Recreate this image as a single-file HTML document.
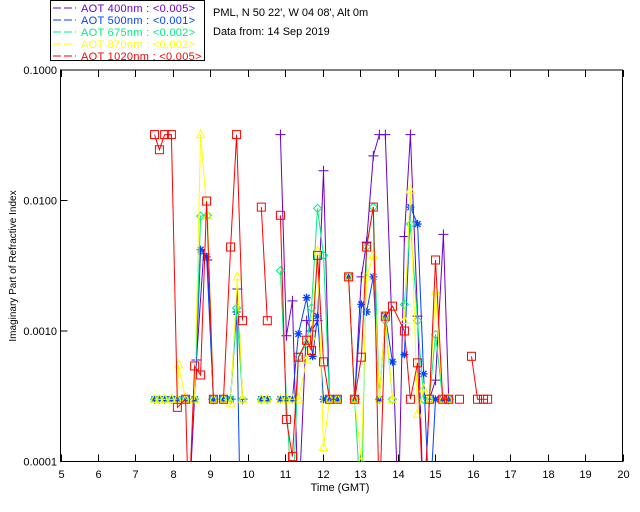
<!DOCTYPE html>
<html><head><meta charset="utf-8"><style>
body{margin:0;background:#fff;}
svg{display:block;font-family:"Liberation Sans",sans-serif;font-size:11px;}
</style></head><body>
<svg id="chart" width="640" height="512">
<defs><clipPath id="clip"><rect x="60.5" y="70" width="562" height="391.5"/></clipPath></defs>
<g>
<rect x="50.5" y="0.5" width="154" height="60" fill="#fff" stroke="#000"/>
</g>
<text x="213" y="16">PML, N 50 22', W 04 08', Alt 0m</text>
<text x="213" y="35">Data from: 14 Sep 2019</text>
<g id="axes"></g>
<g id="marks" clip-path="url(#clip)"></g>
<text x="340" y="491" text-anchor="middle">Time (GMT)</text>
<text transform="translate(16,266) rotate(-90)" text-anchor="middle" font-size="10">Imaginary Part of Refractive Index</text>
</svg>
<script>
const xTicks=[5,6,7,8,9,10,11,12,13,14,15,16,17,18,19,20];
const yTicks=[0.1,0.01,0.001,0.0001];
const yTickLabels=["0.1000","0.0100","0.0010","0.0001"];
const seriesNames=["AOT  400nm : <0.005>","AOT  500nm : <0.001>","AOT  675nm : <0.002>","AOT  870nm : <0.002>","AOT 1020nm : <0.005>"];
const seriesColors=["#6a00c8","#0040ff","#00ee80","#ffff00","#ff0000"];
const seriesMarkers=["plus","star","diamond","triangle","square"];
// null separates disconnected segments
const t400=[8.42,8.63,8.82,8.92,9.08,null,9.54,9.72,9.86,null,10.87,11.03,11.19,11.35,11.57,11.70,11.86,12.02,12.18,null,12.85,13.03,13.17,13.35,13.51,13.67,14.02,14.18,14.34,14.53,14.69,14.85,15.01,15.22,15.36];
const v400=[0.00004,0.0006,0.0039,0.0035,0.0003,null,0.0003,0.0021,0.0003,null,0.032,0.00092,0.0017,0.00004,0.0012,0.001,0.0012,0.0169,0.0003,null,0.0003,0.0026,0.0048,0.022,0.032,0.032,0.00004,0.0053,0.032,0.0013,0.00004,0.0003,0.00042,0.0055,0.0003];
const t500=[7.51,7.64,7.78,7.96,8.12,8.34,8.58,8.74,8.90,9.08,null,9.35,9.54,9.70,9.80,null,10.36,10.52,null,10.87,11.03,11.19,11.35,11.57,11.73,11.86,12.02,12.18,12.39,null,12.69,12.85,13.03,13.17,13.35,13.51,13.67,13.86,null,14.18,14.34,14.53,14.69,14.85,15.01,15.20,15.36];
const v500=[0.0003,0.0003,0.0003,0.0003,0.0003,0.0003,0.0003,0.0042,0.0037,0.0003,null,0.0003,0.0003,0.0014,0.00004,null,0.0003,0.0003,null,0.0003,0.0003,0.0003,0.00095,0.0018,0.00064,0.0013,0.0003,0.0003,0.0003,null,0.0026,0.0003,0.0016,0.0014,0.0026,0.0003,0.0013,0.00058,null,0.00066,0.0089,0.0066,0.00047,0.00004,0.0003,0.0003,0.0003];
const t675=[7.51,7.64,7.78,7.96,8.12,8.34,8.58,8.74,8.92,9.08,null,9.35,9.54,9.70,9.86,null,10.36,10.52,null,10.87,11.03,11.19,11.35,11.57,11.70,11.86,12.02,12.18,12.39,null,12.69,12.85,13.03,13.17,13.35,13.51,13.67,13.86,null,14.18,14.34,14.53,14.69,14.85,15.01,15.20,15.36];
const v675=[0.0003,0.0003,0.0003,0.0003,0.0003,0.0003,0.0003,0.0076,0.0077,0.0003,null,0.0003,0.0003,0.0015,0.0003,null,0.0003,0.0003,null,0.0029,0.0003,0.00004,0.00063,0.0008,0.0015,0.0087,0.0038,0.0003,0.0003,null,0.0026,0.0003,0.00004,0.0044,0.0089,0.0003,0.0012,0.0003,null,0.0016,0.0066,0.0012,0.0003,0.0003,0.00094,0.0003,0.0003];
const t870=[7.51,7.64,7.78,7.96,8.12,8.15,8.34,8.58,8.74,8.92,9.08,null,9.35,9.54,9.72,9.86,null,10.36,10.52,null,10.87,11.03,11.19,11.35,11.57,11.70,11.86,12.02,12.18,12.39,null,12.69,12.85,13.03,13.17,13.35,13.51,13.67,13.86,null,14.18,14.34,14.53,14.69,14.85,15.01,15.20,15.36];
const v870=[0.0003,0.0003,0.0003,0.0003,0.0003,0.00055,0.0003,0.0003,0.032,0.0076,0.0003,null,0.0003,0.00028,0.0026,0.0003,null,0.0003,0.0003,null,0.0003,0.0003,0.0003,0.0003,0.0006,0.0009,0.0041,0.000128,0.0003,0.0003,null,0.0026,0.0003,0.0001,0.0026,0.0038,0.0003,0.0013,0.0003,null,0.0012,0.012,0.00023,0.00036,0.0003,0.002,0.0003,0.0003];
const t1020=[7.51,7.64,7.78,7.96,8.12,8.34,8.42,8.58,8.74,8.90,9.08,null,9.35,9.54,9.70,9.86,null,10.36,10.52,null,10.87,11.03,11.19,11.35,11.57,11.70,11.86,12.02,12.18,12.39,null,12.69,12.85,13.03,13.17,13.35,13.51,13.67,13.86,14.18,14.34,14.53,14.69,14.85,15.01,15.20,15.36,null,15.65,null,15.97,16.13,16.29,16.40];
const v1020=[0.032,0.0245,0.032,0.032,0.00026,0.0003,0.00004,0.00054,0.00046,0.0099,0.0003,null,0.0003,0.0044,0.032,0.0012,null,0.0089,0.0012,null,0.0077,0.00021,0.000109,0.00063,0.00085,0.00071,0.0038,0.00058,0.0003,0.0003,null,0.0026,0.0003,0.00063,0.0044,0.0089,0.00004,0.0013,0.00155,0.001,0.0003,0.00057,0.00004,0.0003,0.0035,0.0003,0.0003,null,0.0003,null,0.00064,0.0003,0.0003,0.0003];
const seriesT=[t400,t500,t675,t870,t1020];
const seriesV=[v400,v500,v675,v870,v1020];

const NS="http://www.w3.org/2000/svg";
const X0=60.5,X1=622.5,Y0=461.5,Y1=70;
function xs(t){return X0+(t-5)/15*(X1-X0);}
function ys(v){return Y0-(Math.log10(v)+4)/3*(Y0-Y1);}
function mk(tag,attrs,parent){const e=document.createElementNS(NS,tag);for(const k in attrs)e.setAttribute(k,attrs[k]);parent.appendChild(e);return e;}
const axes=document.getElementById('axes'),marks=document.getElementById('marks');
const frame=mk('rect',{x:X0,y:Y1,width:X1-X0,height:Y0-Y1,fill:'none',stroke:'#000'},axes);


xTicks.forEach(t=>{
  const x=Math.round(xs(t))+0.5;
  const a=mk('line',{x1:x,x2:x,y1:Y0,y2:Y0-7,stroke:'#000'},axes);
  
  
  const b=mk('line',{x1:x,x2:x,y1:Y1,y2:Y1+7,stroke:'#000'},axes);
  
  
  const l=mk('text',{x:x,y:478,'text-anchor':'middle'},axes);l.textContent=t;
  
  
});
yTicks.forEach((v,i)=>{
  const y=ys(v);
  const a=mk('line',{x1:X0,x2:X0+7,y1:y,y2:y,stroke:'#000'},axes);
  
  
  const l=mk('text',{x:57,y:y+4,'text-anchor':'end'},axes);l.textContent=yTickLabels[i];
  
  
});
function marker(type,x,y,c,g){
  let e;
  if(type==='square')e=mk('rect',{x:x-4,y:y-4,width:8,height:8,fill:'none',stroke:c},g);
  else if(type==='plus')e=mk('path',{d:`M${x-5} ${y}H${x+5}M${x} ${y-5}V${y+5}`,stroke:c,fill:'none'},g);
  else if(type==='star')e=mk('path',{d:`M${x-4} ${y}H${x+4}M${x} ${y-4}V${y+4}M${x-3} ${y-3}L${x+3} ${y+3}M${x-3} ${y+3}L${x+3} ${y-3}`,stroke:c,fill:'none','stroke-width':1.3},g);
  else if(type==='diamond')e=mk('path',{d:`M${x} ${y-4}L${x+4} ${y}L${x} ${y+4}L${x-4} ${y}Z`,stroke:c,fill:'none'},g);
  else e=mk('path',{d:`M${x} ${y-5}L${x+4} ${y+3}L${x-4} ${y+3}Z`,stroke:c,fill:'none'},g);
  
  
}
seriesT.forEach((ts,si)=>{
  const vs=seriesV[si],c=seriesColors[si];
  const g=mk('g',{},marks);
  
  
  let d='',pen=false;
  ts.forEach((t,i)=>{
    if(t===null){pen=false;return;}
    d+=(pen?'L':'M')+xs(t).toFixed(1)+' '+ys(vs[i]).toFixed(1);pen=true;
  });
  const p=mk('path',{d:d,fill:'none',stroke:c,'stroke-width':1},g);
  
  
  ts.forEach((t,i)=>{if(t!==null&&vs[i]>=0.0001)marker(seriesMarkers[si],xs(t),ys(vs[i]),c,g);});
});
const svg=document.getElementById('chart');
seriesNames.forEach((n,i)=>{
  const y=8+i*12;
  const ln=mk('line',{x1:53,x2:76,y1:y,y2:y,stroke:seriesColors[i],'stroke-dasharray':'8,3'},svg);
  
  
  const tx=mk('text',{x:81,y:y+4,fill:seriesColors[i],'xml:space':'preserve','letter-spacing':'0.3'},svg);
  tx.textContent=n;
  
  
});
</script>
</body></html>
